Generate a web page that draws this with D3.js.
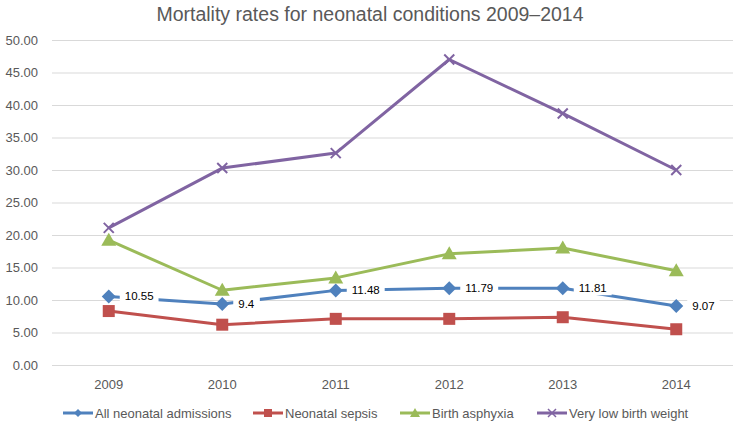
<!DOCTYPE html>
<html><head><meta charset="utf-8">
<script src="https://cdn.jsdelivr.net/npm/d3@7"></script>
<style>body{margin:0;background:#fff}svg{display:block}text{font-family:"Liberation Sans",Arial,sans-serif}</style>
</head><body><svg id="c" width="740" height="423"></svg>
<script>
const years = ["2009","2010","2011","2012","2013","2014"];
const allAdmissions = [10.55, 9.4, 11.48, 11.79, 11.81, 9.07];
const neonatalSepsis = [8.3, 6.2, 7.1, 7.1, 7.35, 5.5];
const birthAsphyxia = [19.2, 11.5, 13.4, 17.1, 18.0, 14.5];
const veryLowBirthWeight = [21.1, 30.3, 32.6, 47.0, 38.7, 30.0];
const yTicks = [0,5,10,15,20,25,30,35,40,45,50];
const seriesNames = ["All neonatal admissions","Neonatal sepsis","Birth asphyxia","Very low birth weight"];
const colors = ["#4F81BD","#C0504D","#9BBB59","#8064A2"];
const symbols = ["diamond","square","triangle","cross"];
const series = [allAdmissions, neonatalSepsis, birthAsphyxia, veryLowBirthWeight];

const svg = d3.select("#c");
const x = d3.scaleBand().domain(years).range([52,733]);
const y = d3.scaleLinear().domain([0,50]).range([365,40]);

svg.append("text").attr("x",370).attr("y",21).attr("text-anchor","middle")
  .attr("font-size",19.5).attr("fill","#595959").text("Mortality rates for neonatal conditions 2009\u20132014");

const yAxis = svg.append("g").attr("transform","translate(52,0)")
  .call(d3.axisLeft(y).tickValues(yTicks).tickFormat(d3.format(".2f")).tickSize(-681).tickPadding(14));
yAxis.select(".domain").remove();
yAxis.selectAll(".tick line").attr("stroke","#D9D9D9").attr("stroke-width",1);
yAxis.selectAll(".tick text").attr("fill","#595959").attr("font-size",13).attr("font-family","Liberation Sans, Arial, sans-serif");

const xAxis = svg.append("g").attr("transform","translate(0,365)")
  .call(d3.axisBottom(x).tickSize(0).tickPadding(15));
xAxis.select(".domain").remove();
xAxis.selectAll(".tick text").attr("fill","#595959").attr("font-size",13).attr("font-family","Liberation Sans, Arial, sans-serif");

const cx = d => x(d) + x.bandwidth()/2;
const line = d3.line().x((d,i)=>cx(years[i])).y(d=>y(d));

function marker(g, type, color, px, py){
  if(type==="diamond"){
    g.append("path").attr("d",`M${px},${py-7}L${px+7},${py}L${px},${py+7}L${px-7},${py}Z`).attr("fill",color);
  } else if(type==="square"){
    g.append("rect").attr("x",px-6).attr("y",py-6).attr("width",12).attr("height",12).attr("fill",color);
  } else if(type==="triangle"){
    g.append("path").attr("d",`M${px},${py-7.5}L${px+7.5},${py+5.5}L${px-7.5},${py+5.5}Z`).attr("fill",color);
  } else {
    g.append("path").attr("d",`M${px-5},${py-5}L${px+5},${py+5}M${px-5},${py+5}L${px+5},${py-5}`).attr("stroke",color).attr("stroke-width",2);
  }
}

series.forEach((vals,si)=>{
  const g = svg.append("g");
  g.append("path").datum(vals).attr("d",line).attr("fill","none").attr("stroke",colors[si]).attr("stroke-width",3).attr("stroke-linejoin","round");
  vals.forEach((v,i)=>marker(g,symbols[si],colors[si],cx(years[i]),y(v)));
});

// data labels for All neonatal admissions
const lg = svg.append("g");
allAdmissions.forEach((v,i)=>{
  const px = cx(years[i]) + 16, py = y(v);
  const t = lg.append("text").attr("x",px).attr("y",py+4).attr("font-size",11.5).attr("fill","#000").text(String(v));
  const bb = t.node().getBBox();
  lg.insert("rect","text").attr("x",bb.x-5).attr("y",bb.y-1).attr("width",bb.width+10).attr("height",bb.height+2).attr("fill","#fff");
});
lg.selectAll("text").raise();

// legend
const legendPos = [63, 253, 400, 537];
const legend = svg.append("g");
seriesNames.forEach((n,si)=>{
  const lx = legendPos[si], ly = 413;
  legend.append("line").attr("x1",lx).attr("x2",lx+30).attr("y1",ly).attr("y2",ly).attr("stroke",colors[si]).attr("stroke-width",3);
  const mx = lx+15;
  const mg = legend.append("g");
  if(symbols[si]==="diamond") mg.append("path").attr("d",`M${mx},${ly-4}L${mx+4},${ly}L${mx},${ly+4}L${mx-4},${ly}Z`).attr("fill",colors[si]);
  else if(symbols[si]==="square") mg.append("rect").attr("x",mx-4).attr("y",ly-4).attr("width",8).attr("height",8).attr("fill",colors[si]);
  else if(symbols[si]==="triangle") mg.append("path").attr("d",`M${mx},${ly-5}L${mx+5},${ly+4}L${mx-5},${ly+4}Z`).attr("fill",colors[si]);
  else mg.append("path").attr("d",`M${mx-4},${ly-4}L${mx+4},${ly+4}M${mx-4},${ly+4}L${mx+4},${ly-4}`).attr("stroke",colors[si]).attr("stroke-width",1.5);
  legend.append("text").attr("x",lx+32).attr("y",ly+4.5).attr("font-size",13).attr("fill","#595959").text(n);
});
</script></body></html>
